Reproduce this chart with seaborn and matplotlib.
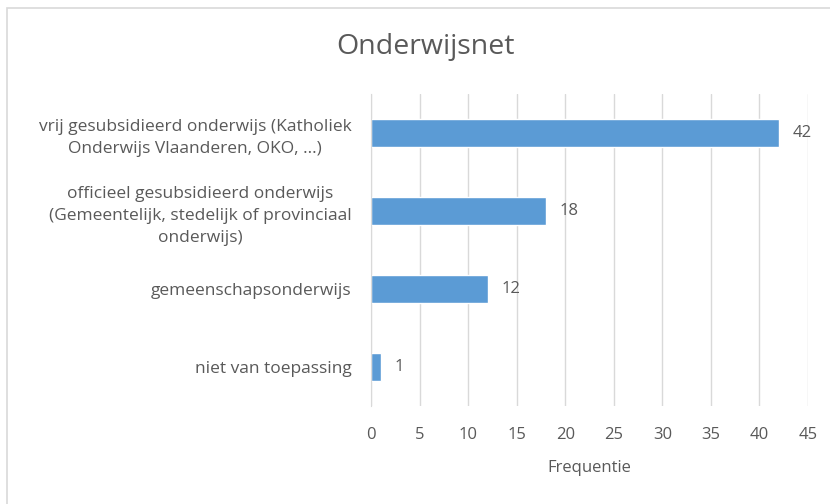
import seaborn as sns
import matplotlib.pyplot as plt
import pandas as pd
from matplotlib.patches import Rectangle

categories = [
    "vrij gesubsidieerd onderwijs (Katholiek\nOnderwijs Vlaanderen, OKO, ...)",
    "officieel gesubsidieerd onderwijs\n(Gemeentelijk, stedelijk of provinciaal\nonderwijs)",
    "gemeenschapsonderwijs",
    "niet van toepassing",
]
frequenties = [42, 18, 12, 1]
x_ticks = [0, 5, 10, 15, 20, 25, 30, 35, 40, 45]

data = pd.DataFrame({"categorie": categories, "frequentie": frequenties})

sns.set_style("white")
plt.rcParams['font.family'] = ['Open Sans', 'DejaVu Sans']

text_color = "#595959"
fig = plt.figure(figsize=(8.3, 5.04), dpi=100)
ax = fig.add_axes([371 / 830, 1 - 406 / 504, (808 - 371) / 830, (406 - 94) / 504])

# chart border
fig.patches.append(Rectangle((7 / 830, -0.1), 1.2, 1 - 8 / 504 + 0.1, transform=fig.transFigure,
                             fill=False, edgecolor="#d9d9d9", linewidth=1.2))

sns.barplot(data=data, x="frequentie", y="categorie", color="#5b9bd5", saturation=1,
            width=28 / 78, ax=ax, orient="h")

ax.set_xlim(0, 45)
ax.set_xticks(x_ticks)
ax.grid(axis="x", color="#d9d9d9", linewidth=1)
ax.set_axisbelow(True)
for s in ["top", "right", "bottom"]:
    ax.spines[s].set_visible(False)
ax.spines["left"].set_color("#d9d9d9")
ax.tick_params(axis="both", length=0, labelcolor=text_color, labelsize=12)
ax.tick_params(axis="x", pad=15)
ax.tick_params(axis="y", labelsize=12.5, pad=14)
for lbl in ax.get_yticklabels():
    lbl.set_multialignment("center")
    lbl.set_linespacing(1.5)

for i, v in enumerate(frequenties):
    ax.text(v + 1.4, i, str(v), va="center", ha="left", fontsize=12, color=text_color)

ax.set_ylabel("")
ax.set_xlabel("Frequentie", color=text_color, fontsize=12, labelpad=12)
fig.text(425 / 830, 1 - 47 / 504, "Onderwijsnet", ha="center", va="center",
         fontsize=20.5, color=text_color)

fig.savefig("out.png", dpi=100, facecolor="white")
